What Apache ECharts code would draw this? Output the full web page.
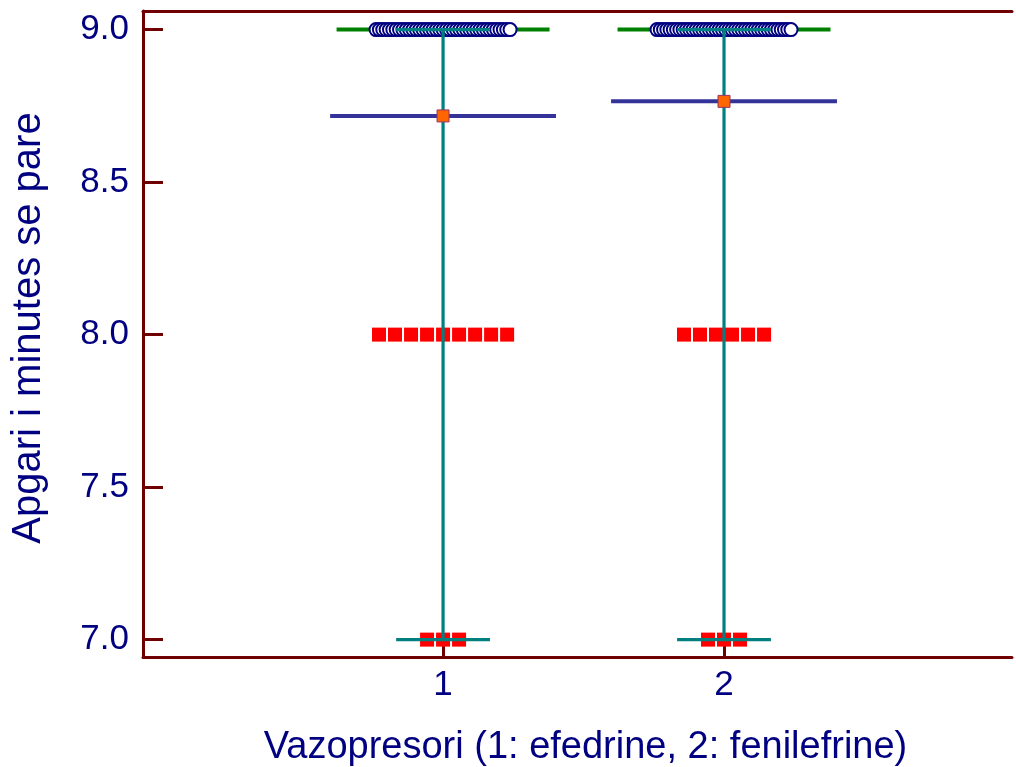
<!DOCTYPE html>
<html>
<head>
<meta charset="utf-8">
<script src="https://cdn.jsdelivr.net/npm/echarts@6/dist/echarts.min.js"></script>
<style>
  html, body { margin: 0; padding: 0; background: #ffffff; }
  #chart { width: 1016px; height: 767px; }
</style>
</head>
<body>
<div id="chart"></div>
<script>
// Apgar score at 1 minute by vasopressor group
const groups = [1, 2];
const groupNames = ['efedrine', 'fenilefrine'];
const scoreLevels = [7, 8, 9];
const countsEfedrine = [3, 9, 41];
const countsFenilefrine = [3, 6, 42];
const yTicks = [7.0, 7.5, 8.0, 8.5, 9.0];
const xTicks = [1, 2];

const AXIS_COLOR = '#700000';
const TEXT_COLOR = '#000080';
const FONT = "'Liberation Sans', Arial, sans-serif";

// individual observations per group, expanded from the counts
function expand(counts) {
  const obs = [];
  scoreLevels.forEach((lvl, i) => { for (let k = 0; k < counts[i]; k++) obs.push(lvl); });
  return obs;
}
const observations = [expand(countsEfedrine), expand(countsFenilefrine)];

function stats(obs) {
  const s = obs.slice().sort((a, b) => a - b);
  const n = s.length;
  const mean = s.reduce((a, b) => a + b, 0) / n;
  const median = n % 2 ? s[(n - 1) / 2] : (s[n / 2 - 1] + s[n / 2]) / 2;
  return { mean, median, min: s[0], max: s[n - 1] };
}
const groupStats = observations.map(stats);

// dot plot: identical values are spread sideways around the group position
const DOT_STEP = 0.057, DOT_SPAN = 0.477;
const circlePts = [], squarePts = [];
observations.forEach((obs, g) => {
  scoreLevels.forEach(lvl => {
    const n = obs.filter(v => v === lvl).length;
    if (!n) return;
    const step = n > 1 ? Math.min(DOT_STEP, DOT_SPAN / (n - 1)) : 0;
    for (let i = 0; i < n; i++) {
      const p = [groups[g] + (i - (n - 1) / 2) * step, lvl];
      (lvl === 9 ? circlePts : squarePts).push(p);
    }
  });
});

const statData = groups.map((x, g) => [x, groupStats[g].median, groupStats[g].mean, groupStats[g].min, groupStats[g].max]);

function hLine(api, x, y, hw, style) {
  const a = api.coord([x - hw, y]), b = api.coord([x + hw, y]);
  return { type: 'line', shape: { x1: a[0], y1: a[1], x2: b[0], y2: b[1] }, style };
}

const chart = echarts.init(document.getElementById('chart'), null, { renderer: 'canvas' });
chart.setOption({
  animation: false,
  backgroundColor: '#ffffff',
  grid: { left: 143, right: 4, top: 11, bottom: 110, containLabel: false, outerBoundsMode: 'none' },
  xAxis: [{
    type: 'value', min: -0.068, max: 3.025, position: 'bottom',
    name: 'Vazopresori (1: efedrine, 2: fenilefrine)',
    nameLocation: 'middle', nameGap: 72,
    nameTextStyle: { color: TEXT_COLOR, fontFamily: FONT, fontSize: 38, padding: [0, 0, 0, 16] },
    axisLine: { show: true, onZero: false, lineStyle: { color: AXIS_COLOR, width: 3 } },
    axisTick: { show: true, inside: true, length: 18, customValues: xTicks, lineStyle: { color: AXIS_COLOR, width: 3 } },
    axisLabel: { customValues: xTicks, color: TEXT_COLOR, fontFamily: FONT, fontSize: 35, margin: 11, formatter: v => String(v) },
    splitLine: { show: false }
  }, {
    type: 'value', min: -0.068, max: 3.025, position: 'top',
    axisLine: { show: true, onZero: false, lineStyle: { color: AXIS_COLOR, width: 3 } },
    axisTick: { show: false }, axisLabel: { show: false }, splitLine: { show: false }
  }],
  yAxis: {
    type: 'value', min: 6.943, max: 9.061,
    name: 'Apgari i minutes se pare',
    nameLocation: 'middle', nameGap: 94,
    nameTextStyle: { color: TEXT_COLOR, fontFamily: FONT, fontSize: 40, padding: [0, 0, 0, 12] },
    axisLine: { show: true, onZero: false, lineStyle: { color: AXIS_COLOR, width: 3 } },
    axisTick: { show: true, inside: true, length: 20, customValues: yTicks, lineStyle: { color: AXIS_COLOR, width: 3 } },
    axisLabel: { customValues: yTicks, color: TEXT_COLOR, fontFamily: FONT, fontSize: 35, margin: 14, formatter: v => v.toFixed(1) },
    splitLine: { show: false }
  },
  series: [
    {
      // median
      type: 'custom', z: 2, data: statData,
      renderItem: (params, api) => hLine(api, api.value(0), api.value(1), 0.379,
        { stroke: '#008000', lineWidth: 4 })
    },
    {
      type: 'scatter', z: 3, data: circlePts, symbol: 'circle', symbolSize: 13,
      itemStyle: { color: '#ffffff', borderColor: '#000080', borderWidth: 2, opacity: 1 }
    },
    {
      type: 'scatter', z: 3, data: squarePts, symbol: 'rect', symbolSize: 14,
      itemStyle: { color: '#ff0000', opacity: 1 }
    },
    {
      // range: min to max with caps
      type: 'custom', z: 4, data: statData,
      renderItem: (params, api) => {
        const x = api.value(0), lo = api.value(3), hi = api.value(4);
        const st = { stroke: '#008080', lineWidth: 3.2 };
        const a = api.coord([x, lo]), b = api.coord([x, hi]);
        return { type: 'group', children: [
          { type: 'line', shape: { x1: a[0], y1: a[1], x2: b[0], y2: b[1] }, style: st },
          hLine(api, x, lo, 0.167, st),
          hLine(api, x, hi, 0.167, st)
        ] };
      }
    },
    {
      // mean
      type: 'custom', z: 5, data: statData,
      renderItem: (params, api) => {
        const x = api.value(0), m = api.value(2);
        const c = api.coord([x, m]);
        return { type: 'group', children: [
          hLine(api, x, m, 0.402, { stroke: '#333399', lineWidth: 4 }),
          { type: 'rect', shape: { x: c[0] - 6, y: c[1] - 6, width: 12, height: 12 },
            style: { fill: '#ff6600', stroke: '#993366', lineWidth: 1 } }
        ] };
      }
    }
  ]
});
</script>
</body>
</html>
